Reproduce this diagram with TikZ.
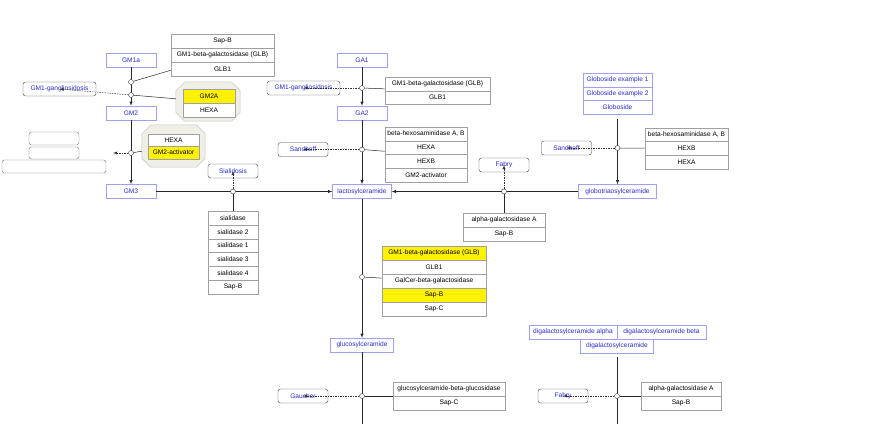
\documentclass[tikz,border=0pt]{standalone}
\usepackage{fontspec}
\setmainfont{Liberation Sans}
\usetikzlibrary{arrows,fit}
\definecolor{metabline}{HTML}{A0A0F0}
\definecolor{metabtext}{HTML}{2A2AD0}
\definecolor{rowline}{HTML}{A0A0A0}
\definecolor{octfill}{HTML}{EFEFE8}
\definecolor{octline}{HTML}{C4C4BC}

\begin{document}
\begin{tikzpicture}[x=1pt,y=-1pt,font=\fontsize{6.6}{7}\selectfont]
\tikzstyle{metab} = [draw=metabline, text=metabtext, fill=white, minimum width=50pt, minimum height=14pt, inner sep=0pt]
\tikzstyle{disease} = [draw=black!75, rounded corners=2.5pt, text=metabtext, fill=white, minimum width=50pt, minimum height=14pt, inner sep=0pt]
\tikzstyle{blank} = [draw=black!55, rounded corners=2.5pt, fill=white, minimum width=50pt, minimum height=13pt, inner sep=0pt]
\tikzstyle{row} = [draw=rowline, fill=white, minimum height=13.8pt, inner sep=0pt]
\tikzstyle{hit} = [row, fill=yellow]
\tikzstyle{octo} = [draw=octline, fill=octfill, line width=0.5pt]
\tikzstyle{dot} = [circle, draw=black!80, fill=white, inner sep=0pt, minimum size=5pt]
\tikzstyle{edge} = [draw=black!85, line width=0.5pt]
\tikzstyle{reaction} = [edge, -latex]
\tikzstyle{link} = [draw=black!80, dash pattern=on 1.5pt off 1pt, -latex, line width=0.45pt]

\useasboundingbox (0,0) rectangle (873,424);

% metabolites
\node[metab] (gm1a) at (131,60) {GM1a};
\node[metab] (gm2) at (131,113) {GM2};
\node[metab] (gm3) at (131,191.5) {GM3};
\node[metab] (ga1) at (362,60) {GA1};
\node[metab] (ga2) at (362,113) {GA2};
\node[metab, minimum width=59pt] (lac) at (362,191.5) {lactosylceramide};
\node[metab, minimum width=63pt] (glc) at (362,345) {glucosylceramide};
\node[metab, minimum width=78pt] (gb3) at (617.5,191.5) {globotriaosylceramide};
\node[metab, minimum width=69pt, minimum height=13.6pt] (glob1) at (617.5,80) {Globoside example 1};
\node[metab, minimum width=69pt, minimum height=13.6pt] (glob2) at (617.5,93.5) {Globoside example 2};
\node[metab, minimum width=69pt, minimum height=13.6pt] (glob3) at (617.5,107) {Globoside};
\node[metab, minimum width=88pt] (digala) at (573,332) {digalactosylceramide alpha};
\node[metab, minimum width=89pt] (digalb) at (661.5,332) {digalactosylceramide beta};
\node[metab, minimum width=73pt] (digal) at (617,346) {digalactosylceramide};
\coordinate (glcend) at (362,424);
\coordinate (digalend) at (617,424);

% enzyme tables
\node[row, minimum width=103pt] (glbA) at (222.5,41) {Sap-B};
\node[row, minimum width=103pt] (glbB) at (222.5,55) {GM1-beta-galactosidase (GLB)};
\node[row, minimum width=103pt] (glbC) at (222.5,69) {GLB1};
\node[fit=(glbA)(glbC), inner sep=0pt] (glb) {};

\node[minimum width=64pt, minimum height=39pt, inner sep=0pt] (oct1) at (208,101.5) {};
\draw[octo] ([xshift=9pt]oct1.north west) -- ([xshift=-9pt]oct1.north east) -- ([yshift=-9pt]oct1.north east)
  -- ([yshift=9pt]oct1.south east) -- ([xshift=-9pt]oct1.south east) -- ([xshift=9pt]oct1.south west)
  -- ([yshift=9pt]oct1.south west) -- ([yshift=-9pt]oct1.north west) -- cycle;
\node[hit, minimum width=52pt, minimum height=14pt] (gm2aA) at (209,96) {GM2A};
\node[row, minimum width=52pt, minimum height=14pt] (gm2aB) at (209,110) {HEXA};

\node[minimum width=63pt, minimum height=42pt, inner sep=0pt] (oct2) at (173.5,146) {};
\draw[octo] ([xshift=9pt]oct2.north west) -- ([xshift=-9pt]oct2.north east) -- ([yshift=-9pt]oct2.north east)
  -- ([yshift=9pt]oct2.south east) -- ([xshift=-9pt]oct2.south east) -- ([xshift=9pt]oct2.south west)
  -- ([yshift=9pt]oct2.south west) -- ([yshift=-9pt]oct2.north west) -- cycle;
\node[row, minimum width=51pt, minimum height=12.5pt] (hexaA) at (173.5,140) {HEXA};
\node[hit, minimum width=51pt, minimum height=12.5pt] (hexaB) at (173.5,152.5) {GM2-activator};

\node[row, minimum width=50pt] (sialA) at (233,218) {sialidase};
\node[row, minimum width=50pt] (sialB) at (233,231.8) {sialidase 2};
\node[row, minimum width=50pt] (sialC) at (233,245.6) {sialidase 1};
\node[row, minimum width=50pt] (sialD) at (233,259.4) {sialidase 3};
\node[row, minimum width=50pt] (sialE) at (233,273.2) {sialidase 4};
\node[row, minimum width=50pt] (sialF) at (233,287) {Sap-B};
\node[fit=(sialA)(sialF), inner sep=0pt] (sial) {};

\node[row, minimum width=105pt, minimum height=13.6pt] (gaglbA) at (437.5,84) {GM1-beta-galactosidase (GLB)};
\node[row, minimum width=105pt, minimum height=13.6pt] (gaglbB) at (437.5,97.5) {GLB1};
\node[fit=(gaglbA)(gaglbB), inner sep=0pt] (gaglb) {};

\node[row, minimum width=82pt] (gahexA) at (426,133.9) {beta-hexosaminidase A, B};
\node[row, minimum width=82pt] (gahexB) at (426,147.6) {HEXA};
\node[row, minimum width=82pt] (gahexC) at (426,161.4) {HEXB};
\node[row, minimum width=82pt] (gahexD) at (426,175.1) {GM2-activator};
\node[fit=(gahexA)(gahexD), inner sep=0pt] (gahex) {};

\node[row, minimum width=82pt] (galaA) at (504,220) {alpha-galactosidase A};
\node[row, minimum width=82pt] (galaB) at (504,234) {Sap-B};
\node[fit=(galaA)(galaB), inner sep=0pt] (gala) {};

\node[row, minimum width=83pt] (gbhexA) at (686.5,134.8) {beta-hexosaminidase A, B};
\node[row, minimum width=83pt] (gbhexB) at (686.5,148.5) {HEXB};
\node[row, minimum width=83pt] (gbhexC) at (686.5,162.2) {HEXA};
\node[fit=(gbhexA)(gbhexC), inner sep=0pt] (gbhex) {};

\node[hit, minimum width=104pt, minimum height=14pt] (galcA) at (434,253) {GM1-beta-galactosidase (GLB)};
\node[row, minimum width=104pt, minimum height=14pt] (galcB) at (434,267) {GLB1};
\node[row, minimum width=104pt, minimum height=14pt] (galcC) at (434,281) {GalCer-beta-galactosidase};
\node[hit, minimum width=104pt, minimum height=14pt] (galcD) at (434,295) {Sap-B};
\node[row, minimum width=104pt, minimum height=14pt] (galcE) at (434,309) {Sap-C};
\node[fit=(galcA)(galcE), inner sep=0pt] (galc) {};

\node[row, minimum width=112pt, minimum height=14pt] (gbaA) at (449,389) {glucosylceramide-beta-glucosidase};
\node[row, minimum width=112pt, minimum height=14pt] (gbaB) at (449,403) {Sap-C};
\node[fit=(gbaA)(gbaB), inner sep=0pt] (gba) {};

\node[row, minimum width=80pt, minimum height=14pt] (dgalA) at (681,389) {alpha-galactosidase A};
\node[row, minimum width=80pt, minimum height=14pt] (dgalB) at (681,403) {Sap-B};
\node[fit=(dgalA)(dgalB), inner sep=0pt] (dgala) {};

% diseases
\node[disease, minimum width=73pt] (gm1gA) at (59.5,89) {GM1-gangliosidosis};
\node[disease, minimum width=73pt] (gm1gB) at (303.5,88) {GM1-gangliosidosis};
\node[disease] (sandA) at (303,149.5) {Sandhoff};
\node[disease] (sandB) at (566.5,148) {Sandhoff};
\node[disease] (sialo) at (233,171) {Sialidosis};
\node[disease] (fabA) at (504,165) {Fabry};
\node[disease] (gauch) at (303,396) {Gaucher};
\node[disease] (fabB) at (563,396) {Fabry};
\node[blank] (emptyA) at (54,138.5) {};
\node[blank, minimum height=12pt] (emptyB) at (54,153) {};
\node[blank, minimum width=104pt] (emptyC) at (54,166.5) {};
\coordinate (emptyarr) at (113,153);

% reactions
\draw[reaction] (gm1a) to (gm2);
\draw[reaction] (gm2) to (gm3);
\draw[reaction] (gm3) to (lac);
\draw[reaction] (ga1) to (ga2);
\draw[reaction] (ga2) to (lac);
\draw[reaction] (gb3) to (lac);
\draw[reaction] (lac) to (glc);
\draw[reaction, shorten <=5pt] (glob3) to (gb3);
\draw[edge] (glc) to (glcend);
\draw[edge, shorten <=4pt] (digal) to (digalend);

% catalysis points
\node[dot] (c1) at (131,82) {};
\node[dot] (c2) at (131,95) {};
\node[dot] (c3) at (131,153) {};
\node[dot] (c4) at (233,191.5) {};
\node[dot] (c5) at (362,88) {};
\node[dot] (c6) at (362,149.5) {};
\node[dot] (c7) at (362,277) {};
\node[dot] (c8) at (362,396) {};
\node[dot] (c9) at (504,191.5) {};
\node[dot] (c10) at (617.5,148) {};
\node[dot] (c11) at (617,396) {};

\draw[edge] (c1) to (glb);
\draw[edge] (c2) to (oct1);
\draw[edge] (c3) to (oct2);
\draw[edge] (c4) to (sial);
\draw[edge] (c5) to (gaglb);
\draw[edge] (c6) to (gahex);
\draw[edge] (c7) to (galc);
\draw[edge] (c8) to (gba);
\draw[edge] (c9) to (gala);
\draw[edge] (c10) to (gbhex);
\draw[edge] (c11) to (dgala);

\draw[link] (c2) to (gm1gA.center);
\draw[link] (c3) to (emptyarr);
\draw[link] (c4) to (sialo.center);
\draw[link] (c5) to (gm1gB.center);
\draw[link] (c6) to (sandA.center);
\draw[link] (c8) to (gauch.center);
\draw[link] (c9) to (fabA.center);
\draw[link] (c10) to (sandB.center);
\draw[link] (c11) to (fabB.center);
\end{tikzpicture}
\end{document}
